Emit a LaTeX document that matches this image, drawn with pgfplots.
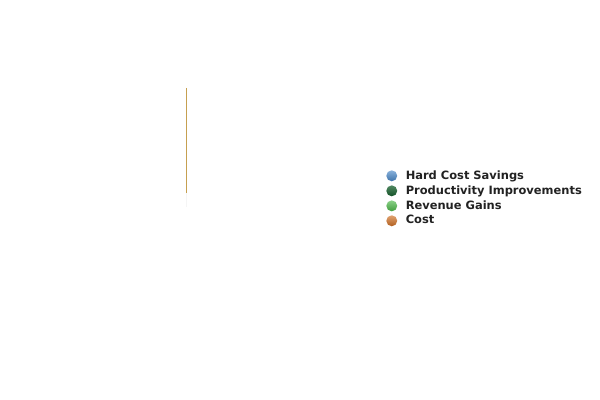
\documentclass[border=0pt]{standalone}
\usepackage{pgfplots}
\pgfplotsset{compat=1.18}
\usepackage{fontspec}
\setmainfont{DejaVu Sans}
\definecolor{cblue}{HTML}{4A88C8}
\definecolor{cdgreen}{HTML}{17602E}
\definecolor{cgreen}{HTML}{4CB848}
\definecolor{corange}{HTML}{D07024}
\definecolor{cgold}{HTML}{C6A050}
\definecolor{ctext}{HTML}{222222}
\begin{document}
\begin{tikzpicture}
\begin{axis}[
  scale only axis, width=15cm, height=10cm,
  xmin=0, xmax=600, ymin=0, ymax=400,
  axis lines=none, ticks=none,
  clip=false,
  legend cell align=left,
  legend style={draw=none, fill=none, at={(axis cs:386,232)}, anchor=north west,
    font=\bfseries\fontsize{8.15}{9}\selectfont, text=ctext,
    row sep=0pt, inner sep=0pt, nodes={inner sep=1.5pt}},
]
\path (axis cs:0,0) rectangle (axis cs:600,400);
\addplot[draw=gray!8, line width=1.4pt, forget plot] coordinates {(186.5,207) (186.5,193)};
\addplot[draw=cgold, line width=1.4pt, forget plot] coordinates {(186.5,312) (186.5,207)};
\addlegendimage{legend image code/.code={\shade[draw=none, top color=cblue!65!white, bottom color=cblue!85!black] (0cm,0cm) circle (3.9pt); \path (0.29cm,0cm);}}
\addlegendentry{Hard Cost Savings}
\addlegendimage{legend image code/.code={\shade[draw=none, top color=cdgreen!75!white, bottom color=cdgreen!85!black] (0cm,0cm) circle (3.9pt); \path (0.29cm,0cm);}}
\addlegendentry{Productivity Improvements}
\addlegendimage{legend image code/.code={\shade[draw=none, top color=cgreen!65!white, bottom color=cgreen!85!black] (0cm,0cm) circle (3.9pt); \path (0.29cm,0cm);}}
\addlegendentry{Revenue Gains}
\addlegendimage{legend image code/.code={\shade[draw=none, top color=corange!65!white, bottom color=corange!85!black] (0cm,0cm) circle (3.9pt); \path (0.29cm,0cm);}}
\addlegendentry{Cost}
\end{axis}
\end{tikzpicture}
\end{document}
